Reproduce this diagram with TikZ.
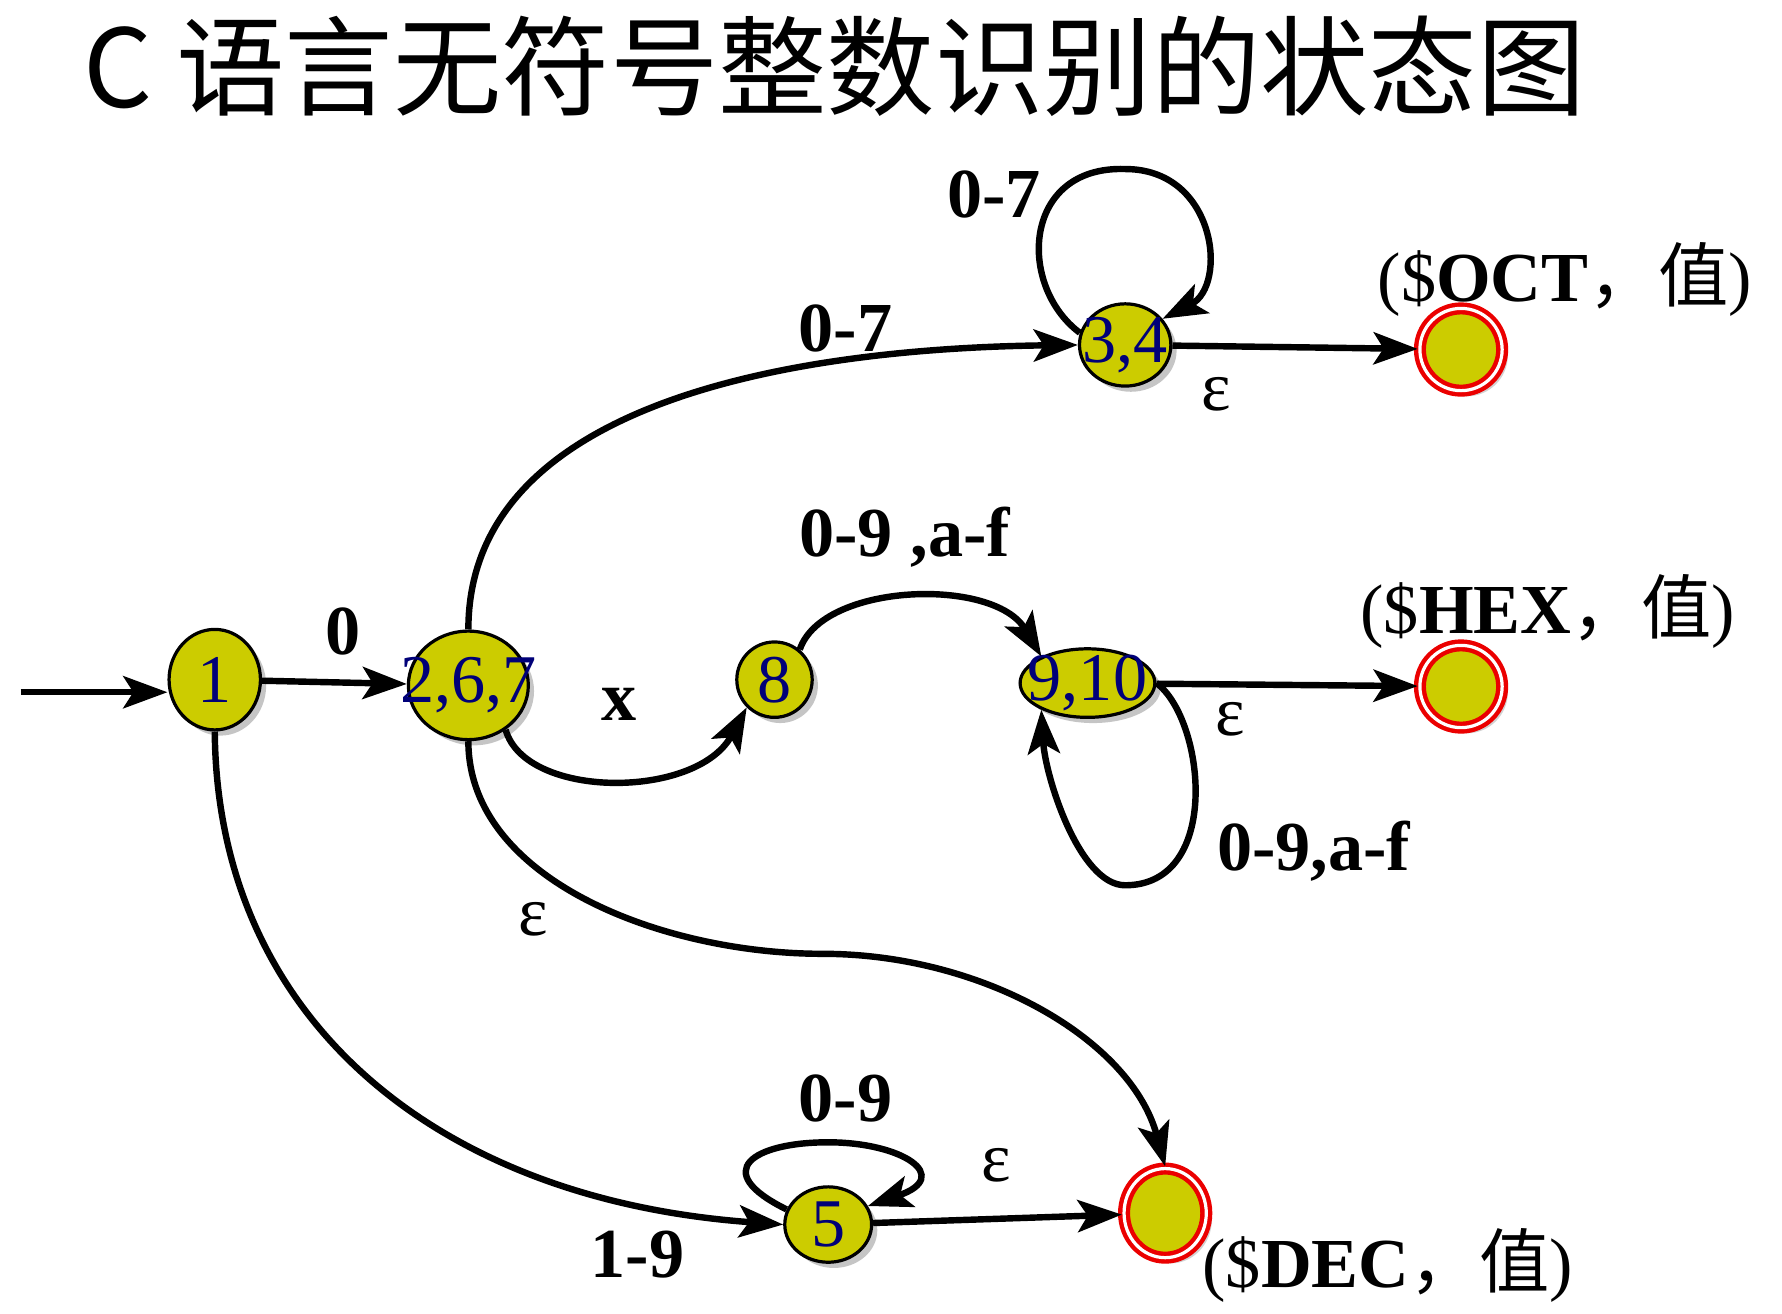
\documentclass[tikz,border=0pt]{standalone}
\usepackage{fontspec}
\setmainfont{Liberation Serif}
\newfontfamily\cjk{Noto Sans CJK SC}
\usetikzlibrary{shapes.geometric, arrows.meta, shadows}
\definecolor{stateyellow}{RGB}{204, 204, 0}
\definecolor{labelblue}{RGB}{0, 0, 120}
\definecolor{ringred}{RGB}{235, 0, 0}
\tikzset{
  state/.style={ellipse, draw=black, line width=0.8pt, fill=stateyellow, inner sep=0pt,
    drop shadow={shadow xshift=0.05cm, shadow yshift=-0.05cm, fill=gray!90},
    label={[text=labelblue, font=\fontsize{17}{17}\selectfont]center:#1}},
  final/.style={circle, draw=ringred, line width=1.1pt, double=white, double distance=0.8pt,
    fill=stateyellow, minimum size=0.72cm, inner sep=0pt,
    drop shadow={shadow xshift=0.05cm, shadow yshift=-0.05cm, fill=gray!70}},
  trans/.style={-{Stealth[length=11pt, width=8pt, inset=2.5pt]}, line width=1.6pt},
  sym/.style={font=\fontsize{17.5}{17.5}\selectfont\bfseries, inner sep=0pt},
  eps/.style={font=\fontsize{17.5}{17.5}\selectfont, inner sep=0pt},
  accept/.style={font=\fontsize{17.5}{17.5}\selectfont, inner sep=0pt}
}
\begin{document}
\begin{tikzpicture}
  \useasboundingbox (0,0) rectangle (15.6,11.5);
  \node[anchor=west, inner sep=0pt, font=\cjk\fontsize{27}{27}\selectfont] (title) at (0.72, 10.92) {C 语言无符号整数识别的状态图};

  % states
  \coordinate (start) at (0.18, 5.44);
  \node[state={1}, minimum width=0.80cm, minimum height=0.88cm] (n1) at (1.88, 5.55) {};
  \node[state={2,6,7}, minimum width=1.05cm, minimum height=0.95cm] (n267) at (4.10, 5.50) {};
  \node[state={8}, minimum width=0.66cm, minimum height=0.66cm] (n8) at (6.78, 5.55) {};
  \node[state={9,10}, minimum width=1.18cm, minimum height=0.60cm] (n910) at (9.52, 5.52) {};
  \node[state={3,4}, minimum width=0.80cm, minimum height=0.72cm] (n34) at (9.85, 8.48) {};
  \node[state={5}, minimum width=0.76cm, minimum height=0.66cm] (n5) at (7.25, 0.78) {};

  % accepting states
  \node[final] (fOCT) at (12.79, 8.44) {};
  \node[final] (fHEX) at (12.79, 5.49) {};
  \node[final, minimum width=0.72cm, minimum height=0.78cm, ellipse] (fDEC) at (10.20, 0.88) {};

  % transitions
  \draw[trans] (start) -- (start -| n1.west);
  \draw[trans] (n1) -- (n267);
  \draw[trans] (n267.north) .. controls (4.10, 8.0) and (7.0, 8.45) .. (n34.west);
  \draw[trans] (n34.165) .. controls (8.9, 9.0) and (8.95, 10.05) .. (9.85, 10.02)
    .. controls (10.65, 10.02) and (10.75, 9.0) .. (n34.35);
  \draw[trans] (n34) -- (fOCT);
  \draw[trans] (n267.-50) .. controls (4.6, 4.5) and (6.1, 4.5) .. (n8.-135);
  \draw[trans] (n8.50) .. controls (7.2, 6.4) and (8.7, 6.45) .. (n910.150);
  \draw[trans] (n910.east) .. controls (10.55, 5.2) and (10.7, 3.75) .. (9.85, 3.75)
    .. controls (9.45, 3.75) and (9.15, 4.7) .. (n910.-150);
  \draw[trans] (n910) -- (fHEX);
  \draw[trans] (n267.south) .. controls (4.10, 3.8) and (5.8, 3.15) .. (7.2, 3.15)
    .. controls (8.6, 3.15) and (9.9, 2.4) .. (fDEC.north);
  \draw[trans] (n1.south) .. controls (1.9, 2.6) and (3.8, 1.0) .. (n5.west);
  \draw[trans] (n5.160) .. controls (6.2, 1.25) and (6.6, 1.5) .. (7.25, 1.50)
    .. controls (7.9, 1.5) and (8.35, 1.2) .. (n5.25);
  \draw[trans] (n5) -- (fDEC);

  % labels
  \node[sym] (l0) at (3.00, 5.97) {0};
  \node[sym] (l07a) at (7.40, 8.62) {0-7};
  \node[sym] (l07b) at (8.70, 9.80) {0-7};
  \node[eps] (e34) at (10.65, 8.05) {ε};
  \node[sym] (lx) at (5.42, 5.33) {x};
  \node[sym] (l09af) at (7.92, 6.80) {0-9 ,a-f};
  \node[eps] (e910) at (10.77, 5.20) {ε};
  \node[sym] (l09afb) at (11.50, 4.05) {0-9,a-f};
  \node[eps] (e267) at (4.67, 3.45) {ε};
  \node[sym] (l19) at (5.58, 0.52) {1-9};
  \node[sym] (l09) at (7.40, 1.88) {0-9};
  \node[eps] (e5) at (8.72, 1.30) {ε};

  % token outputs
  \node[accept] (tOCT) at (13.70, 9.05) {(\$\textbf{OCT}{\cjk ，值})};
  \node[accept] (tHEX) at (13.55, 6.15) {(\$\textbf{HEX}{\cjk ，值})};
  \node[accept] (tDEC) at (12.15, 0.42) {(\$\textbf{DEC}{\cjk ，值})};
\end{tikzpicture}
\end{document}
